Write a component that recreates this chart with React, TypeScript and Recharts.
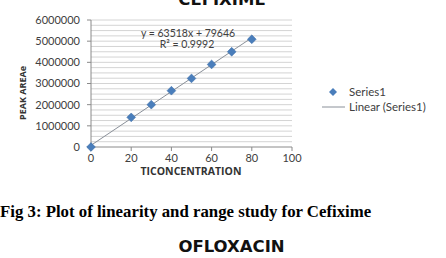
import React from "react";
import { ScatterChart, Scatter, XAxis, YAxis, ReferenceLine } from "recharts";

const concentrations = [0, 20, 30, 40, 50, 60, 70, 80];
const peakAreas = [0, 1400000, 2000000, 2660000, 3240000, 3900000, 4500000, 5090000];
const xTicks = [0, 20, 40, 60, 80, 100];
const yTicks = [0, 1000000, 2000000, 3000000, 4000000, 5000000, 6000000];
const yMinorTicks = [
  250000, 500000, 750000, 1000000, 1250000, 1500000, 1750000, 2000000, 2250000, 2500000, 2750000,
  3000000, 3250000, 3500000, 3750000, 4000000, 4250000, 4500000, 4750000, 5000000, 5250000, 5500000,
  5750000, 6000000,
];
const slope = 63518;
const intercept = 79646;
const trendX = [0, 80];

const points = concentrations.map((x, i) => ({ x, y: peakAreas[i] }));
const trend = trendX.map((x) => ({ x, y: slope * x + intercept }));

const BLUE = "#4a7ebb";
const TREND = "#8a9099";
const TXT = "#404040";
const sans = "Lato, 'Open Sans', sans-serif";

const Diamond = (props: any) => {
  const { cx, cy } = props;
  if (cx == null || cy == null) return null;
  const r = 4.4;
  return (
    <polygon
      points={`${cx},${cy - r} ${cx + r},${cy} ${cx},${cy + r} ${cx - r},${cy}`}
      fill={BLUE}
      stroke="#3a6aa5"
      strokeWidth={0.5}
    />
  );
};

const NoShape = () => null;

export default function App() {
  return (
    <div style={{ position: "absolute", left: 0, top: 0, width: 446, height: 258, background: "#fff", overflow: "hidden" }}>
      <div style={{ position: "absolute", left: 0, top: 0 }}>
        <ScatterChart width={446} height={185} margin={{ top: 20, right: 154, left: 31, bottom: 8 }}>
          <XAxis
            type="number"
            dataKey="x"
            domain={[0, 100]}
            ticks={xTicks}
            interval={0}
            tickSize={4}
            tickMargin={3}
            axisLine={{ stroke: "#8a8a8a" }}
            tickLine={{ stroke: "#8a8a8a" }}
            tick={{ fill: TXT, fontSize: 11, fontFamily: sans }}
            height={30}
          />
          <YAxis
            type="number"
            dataKey="y"
            domain={[0, 6000000]}
            ticks={yTicks}
            interval={0}
            tickSize={4}
            tickMargin={7}
            width={60}
            axisLine={{ stroke: "#8a8a8a" }}
            tickLine={{ stroke: "#8a8a8a" }}
            tick={{ fill: TXT, fontSize: 11, fontFamily: sans }}
          />
          {yMinorTicks.map((v) => (
            <ReferenceLine key={v} y={v} stroke="#d4d4d4" strokeWidth={1} ifOverflow="extendDomain" />
          ))}
          <Scatter
            data={trend}
            line={{ stroke: TREND, strokeWidth: 1 }}
            shape={NoShape}
            isAnimationActive={false}
          />
          <Scatter data={points} shape={Diamond} isAnimationActive={false} />
        </ScatterChart>
      </div>
      <svg
        width={446}
        height={258}
        style={{ position: "absolute", left: 0, top: 0, pointerEvents: "none" }}
      >
        <text x={222} y={5} textAnchor="middle" fontFamily="'DejaVu Sans', sans-serif" fontWeight="bold" fontSize={16.5} fill="#111">
          CEFIXIME
        </text>
        <text x={188} y={37} textAnchor="middle" fontFamily={sans} fontSize={10.5} fill={TXT}>
          y = 63518x + 79646
        </text>
        <text x={187} y={48} textAnchor="middle" fontFamily={sans} fontSize={10.5} fill={TXT}>
          R² = 0.9992
        </text>
        <text x={191} y={175} textAnchor="middle" fontFamily="'Open Sans', sans-serif" fontWeight="bold" fontSize={10.5} fill="#333">
          TICONCENTRATION
        </text>
        <text
          x={0}
          y={0}
          transform="translate(26,93) rotate(-90)"
          textAnchor="middle"
          fontFamily="'Open Sans', sans-serif"
          fontWeight="bold"
          fontSize={9}
          fill="#333"
        >
          PEAK AREAe
        </text>
        <polygon points="333,88 337,92 333,96 329,92" fill={BLUE} />
        <text x={349} y={95.5} fontFamily={sans} fontSize={11.5} fill={TXT}>
          Series1
        </text>
        <line x1={322} y1={107} x2={345} y2={107} stroke={TREND} strokeWidth={1} />
        <text x={349} y={110.5} fontFamily={sans} fontSize={11.5} fill={TXT}>
          Linear (Series1)
        </text>
        <text x={0} y={216.5} fontFamily="'Liberation Serif', 'Times New Roman', serif" fontWeight="bold" fontSize={16.8} fill="#000">
          Fig 3: Plot of linearity and range study for Cefixime
        </text>
        <text x={231.5} y={251.5} textAnchor="middle" fontFamily="'DejaVu Sans', sans-serif" fontWeight="bold" fontSize={16.5} fill="#111">
          OFLOXACIN
        </text>
      </svg>
    </div>
  );
}
